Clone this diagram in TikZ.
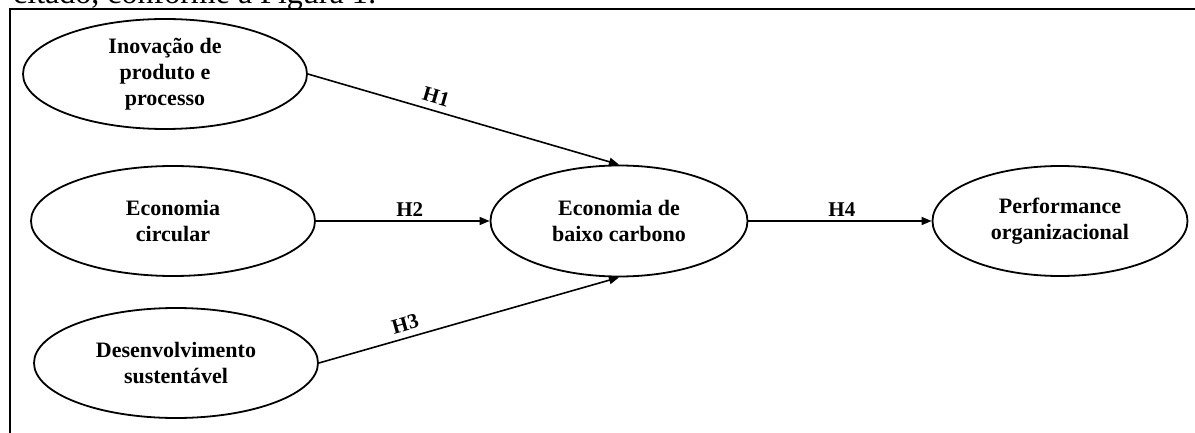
\documentclass[tikz,border=0pt]{standalone}
\usepackage{fontspec}
\setmainfont{Liberation Serif}
\usetikzlibrary{arrows.meta,positioning,shapes.geometric}

\begin{document}
\begin{tikzpicture}[
  x=1pt, y=-1pt,
  font=\bfseries\fontsize{22}{26}\selectfont,
  >={Triangle[length=10pt, width=8pt]},
  construct/.style={ellipse, draw, line width=1.8pt, align=center, inner sep=0pt, minimum width=284pt, minimum height=110pt},
  hyp/.style={->, line width=1.6pt},
  hlabel/.style={above, inner sep=4pt, font=\bfseries\fontsize{21}{22}\selectfont}
]
\useasboundingbox (0,0) rectangle (1195,433);
\begin{scope}
  \clip (0,0) rectangle (1195,433);
  \node[anchor=base west, inner sep=0pt, font=\fontsize{32}{36}\selectfont] (lead) at (13,4) {citado, conforme a Figura 1:};
\end{scope}
\draw[line width=2.4pt] (10,433) -- (10,9) -- (1195,9);

\node[construct] (inov) at (165,74) {Inovação de\\produto e\\processo};
\node[construct] (circ) at (173,221) {Economia\\circular};
\node[construct] (desenv) at (176,363) {Desenvolvimento\\sustentável};
\node[construct, minimum width=257pt, minimum height=111pt] (baixo) at (619,221) {Economia de\\baixo carbono};
\node[construct, minimum width=255pt, minimum height=110pt] (perf) at (1060,221) {Performance\\organizacional};

\draw[hyp] (inov.east) -- node[hlabel, sloped, pos=0.4, inner sep=6pt] {H1} (baixo.north);
\draw[hyp] (circ.east) -- node[hlabel, pos=0.54] {H2} (baixo.west);
\draw[hyp] (desenv.east) -- node[hlabel, sloped, pos=0.3, inner sep=6pt] {H3} (baixo.south);
\draw[hyp] (baixo.east) -- node[hlabel, pos=0.51] {H4} (perf.west);
\end{tikzpicture}
\end{document}
